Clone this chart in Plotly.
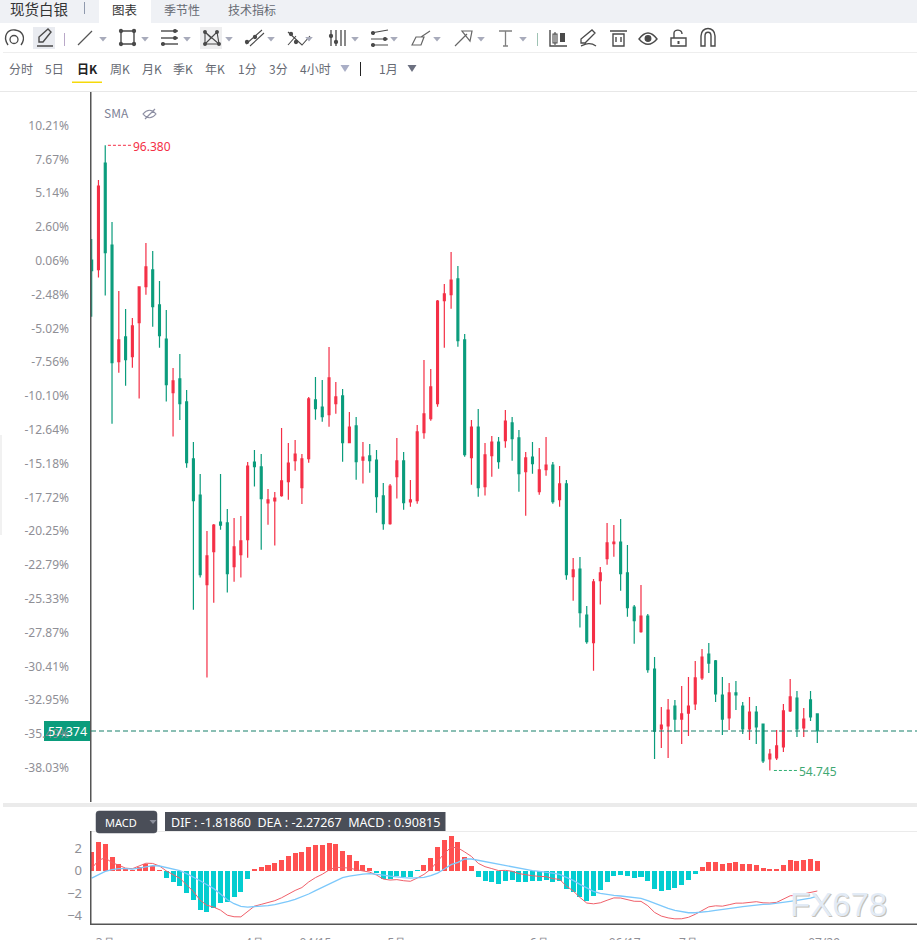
import plotly.graph_objects as go

# daily candles
OPENS = [88.74, 88.10, 95.20, 89.74, 81.97, 83.62, 82.30, 84.57, 86.97, 88.08, 85.75, 83.48,
         79.91, 80.82, 79.29, 75.49, 73.09, 67.12, 69.32, 71.29, 71.23, 68.32, 69.12, 70.12,
         75.29, 74.96, 72.56, 72.69, 73.05, 73.98, 75.38, 73.58, 75.51, 79.42, 78.95, 78.44,
         79.17, 79.69, 76.58, 77.69, 75.42, 75.69, 75.42, 73.03, 71.18, 74.31, 75.36, 72.63,
         72.71, 77.24, 78.17, 79.17, 86.03, 86.43, 87.48, 83.42, 75.58, 77.62, 73.65, 75.71,
         76.62, 76.71, 77.89, 76.89, 74.64, 75.62, 73.31, 74.78, 75.09, 72.78, 73.83, 67.65,
         68.16, 65.10, 63.26, 67.39, 68.85, 69.85, 69.96, 67.90, 65.63, 63.99, 65.03, 61.50,
         57.51, 57.71, 59.04, 58.17, 58.57, 59.17, 60.91, 62.50, 62.04, 59.77, 58.24, 59.91,
         59.04, 57.51, 58.64, 57.84, 55.51, 55.58, 56.31, 58.71, 59.57, 57.58, 59.44, 58.51]
HIGHS = [90.14, 94.07, 96.38, 91.27, 86.68, 85.48, 84.88, 86.95, 89.88, 89.34, 87.35, 85.41,
         81.55, 82.48, 80.09, 76.62, 74.49, 70.70, 71.16, 74.49, 72.16, 71.56, 71.69, 75.29,
         76.09, 75.82, 73.49, 73.29, 77.56, 76.56, 76.76, 75.82, 79.62, 80.95, 80.75, 82.95,
         80.62, 80.15, 78.62, 78.29, 76.62, 76.49, 76.09, 73.89, 73.83, 76.89, 75.96, 74.09,
         77.75, 82.08, 81.48, 86.08, 87.15, 89.28, 88.34, 83.82, 78.09, 78.82, 76.56, 77.02,
         76.96, 78.75, 78.29, 77.42, 75.96, 76.62, 76.22, 76.96, 75.29, 75.02, 74.09, 68.90,
         68.96, 65.70, 67.50, 68.30, 71.23, 71.09, 71.49, 69.76, 65.77, 67.10, 65.17, 62.30,
         58.97, 59.51, 59.44, 60.37, 60.97, 62.04, 62.84, 63.24, 62.10, 60.97, 60.57, 60.71,
         59.31, 59.64, 59.04, 57.84, 56.18, 57.44, 59.17, 60.84, 60.04, 58.91, 60.04, 58.51]
LOWS = [84.97, 87.57, 86.37, 77.84, 81.24, 80.37, 81.57, 79.51, 86.43, 84.30, 82.90, 79.31,
        76.98, 78.09, 74.91, 65.45, 67.59, 60.93, 65.92, 70.78, 66.59, 67.32, 67.59, 68.92,
        73.65, 69.45, 71.11, 69.72, 72.98, 72.78, 74.71, 72.49, 75.24, 78.11, 77.97, 77.64,
        78.51, 75.31, 76.58, 74.11, 73.85, 74.58, 71.91, 70.78, 71.11, 72.85, 72.11, 72.31,
        72.51, 76.84, 78.04, 78.97, 82.90, 85.50, 82.97, 75.64, 73.78, 72.98, 73.05, 74.31,
        74.84, 76.24, 75.38, 73.31, 71.71, 74.51, 73.11, 74.38, 72.51, 72.31, 67.45, 66.05,
        64.26, 63.19, 61.39, 65.79, 68.45, 68.98, 66.72, 64.99, 63.19, 63.92, 61.26, 55.51,
        56.24, 55.58, 57.31, 56.51, 57.04, 58.77, 60.77, 61.24, 59.31, 57.11, 57.44, 58.77,
        57.18, 56.78, 56.51, 55.24, 54.745, 55.44, 55.98, 58.64, 56.98, 56.98, 58.04, 56.58]
CLOSES = [88.03, 93.67, 89.23, 81.90, 83.42, 82.10, 84.35, 86.95, 88.28, 85.63, 83.70, 80.44,
          80.69, 79.17, 75.24, 72.71, 67.79, 69.03, 71.09, 71.09, 67.85, 69.63, 70.03, 75.02,
          74.98, 72.85, 72.76, 72.89, 74.03, 75.22, 75.82, 75.49, 79.49, 78.84, 78.31, 80.89,
          79.62, 76.58, 77.62, 75.31, 75.62, 75.38, 72.98, 71.18, 73.69, 75.36, 72.58, 72.76,
          77.29, 78.49, 80.29, 86.01, 86.48, 87.41, 83.37, 75.78, 77.62, 73.58, 75.76, 76.62,
          75.31, 78.02, 76.84, 74.51, 75.56, 75.18, 74.76, 75.09, 72.65, 73.83, 67.79, 68.10,
          65.25, 63.32, 67.30, 67.90, 69.90, 69.96, 67.85, 65.59, 64.72, 65.03, 61.46, 57.36,
          57.77, 58.77, 58.17, 58.51, 59.04, 60.91, 62.30, 61.90, 59.84, 58.17, 59.91, 59.77,
          57.51, 58.64, 57.64, 55.38, 55.84, 56.38, 58.71, 59.64, 57.51, 58.17, 58.31, 57.374]

MACD_HIST = [1.70, 2.60, 2.42, 1.26, 0.63, 0.09, 0.05, 0.33, 0.63, 0.39, 0.01, -0.63,
             -0.99, -1.35, -2.00, -2.60, -3.50, -3.68, -3.32, -2.90, -2.78, -2.33, -1.88, -0.72,
             0.09, 0.36, 0.54, 0.72, 0.99, 1.35, 1.61, 1.70, 2.15, 2.33, 2.33, 2.51,
             2.42, 1.79, 1.43, 0.90, 0.54, 0.27, -0.18, -0.72, -0.72, -0.45, -0.54, -0.57,
             -0.02, 0.54, 1.17, 2.15, 2.78, 3.14, 2.60, 1.26, 0.45, -0.54, -0.90, -0.99,
             -1.17, -0.90, -0.81, -0.99, -0.99, -0.90, -0.90, -0.81, -0.99, -0.90, -1.61, -1.88,
             -2.33, -2.69, -2.24, -1.70, -0.99, -0.45, -0.36, -0.51, -0.63, -0.54, -0.90, -1.61,
             -1.79, -1.70, -1.52, -1.26, -0.81, -0.27, 0.36, 0.81, 0.81, 0.63, 0.72, 0.81,
             0.63, 0.63, 0.54, 0.27, 0.18, 0.18, 0.54, 0.99, 0.90, 0.99, 1.08, 0.91]
DEA = [-0.66, -0.36, -0.06, 0.09, 0.18, 0.18, 0.15, 0.24, 0.36, 0.45, 0.42, 0.30,
       0.15, 0.00, -0.27, -0.57, -0.90, -1.26, -1.61, -2.09, -2.60, -2.96, -3.20, -3.26,
       -3.23, -3.20, -3.14, -3.05, -2.93, -2.75, -2.57, -2.36, -2.09, -1.79, -1.49, -1.20,
       -0.90, -0.63, -0.48, -0.36, -0.30, -0.27, -0.30, -0.39, -0.48, -0.57, -0.63, -0.66,
       -0.66, -0.60, -0.45, -0.21, 0.15, 0.54, 0.75, 1.05, 1.05, 0.93, 0.81, 0.69,
       0.60, 0.48, 0.36, 0.24, 0.12, 0.00, -0.06, -0.12, -0.21, -0.33, -0.57, -0.87,
       -1.23, -1.55, -1.85, -2.03, -2.15, -2.21, -2.27, -2.36, -2.42, -2.48, -2.69, -2.93,
       -3.17, -3.38, -3.56, -3.68, -3.77, -3.77, -3.74, -3.65, -3.56, -3.50, -3.41, -3.32,
       -3.23, -3.14, -3.05, -3.02, -2.99, -2.93, -2.84, -2.75, -2.66, -2.57, -2.45, -2.27]
DIF = [0.19, 0.94, 1.15, 0.72, 0.49, 0.23, 0.18, 0.41, 0.67, 0.65, 0.42, -0.02,
       -0.35, -0.68, -1.27, -1.87, -2.65, -3.10, -3.27, -3.54, -3.99, -4.13, -4.14, -3.62,
       -3.18, -3.02, -2.87, -2.69, -2.43, -2.07, -1.77, -1.51, -1.01, -0.62, -0.32, 0.06,
       0.31, 0.27, 0.24, 0.09, -0.03, -0.13, -0.39, -0.75, -0.84, -0.80, -0.90, -0.95,
       -0.66, -0.33, 0.14, 0.87, 1.54, 2.11, 2.05, 1.68, 1.28, 0.66, 0.36, 0.19,
       0.01, 0.03, -0.05, -0.26, -0.38, -0.45, -0.51, -0.53, -0.71, -0.78, -1.38, -1.81,
       -2.40, -2.90, -2.97, -2.88, -2.65, -2.44, -2.45, -2.62, -2.74, -2.75, -3.14, -3.74,
       -4.07, -4.23, -4.32, -4.31, -4.18, -3.91, -3.56, -3.24, -3.15, -3.18, -3.05, -2.91,
       -2.91, -2.82, -2.78, -2.88, -2.90, -2.84, -2.57, -2.25, -2.21, -2.07, -1.91, -1.82]

PCT_TICKS = [10.21, 7.67, 5.14, 2.60, 0.06, -2.48, -5.02, -7.56, -10.10, -12.64, -15.18, -17.72,
             -20.25, -22.79, -25.33, -27.87, -30.41, -32.95, -35.49, -38.03]
BASE_PRICE = 88.63
MONTH_POS = [2, 24, 33, 45, 66, 78.6, 88, 108]
MONTH_LABELS = ["3月", "4月", "04/15", "5月", "6月", "06/17", "7月", "07/29"]

TOP_TABS = [("季节性", 182), ("技术指标", 252)]
PERIODS = [("分时", 21), ("5日", 54), ("周K", 120), ("月K", 152), ("季K", 183), ("年K", 215),
           ("1分", 247), ("3分", 278), ("4小时", 315), ("1月", 388)]

UP = "#f42f46"
DOWN = "#0a9c7c"
GREY = "#8f8f96"
ICON = "#4a4a4a"
CJK = "Noto Sans CJK SC"
W, H = 917, 940

xs = list(range(len(CLOSES)))
shapes = []
notes = []


def stroke(path, color=ICON, width=1.4, fill=None):
    shapes.append(dict(type="path", path=path, xref="x3", yref="y3",
                       line=dict(color=color, width=width), fillcolor=fill))


def block(x0, y0, x1, y1, color, layer="above"):
    shapes.append(dict(type="rect", x0=x0, y0=y0, x1=x1, y1=y1, xref="x3", yref="y3",
                       line=dict(width=0), fillcolor=color, layer=layer))


def dot(x, y, r=1.8, color=ICON, fill=ICON):
    shapes.append(dict(type="circle", x0=x - r, x1=x + r, y0=y - r, y1=y + r, xref="x3", yref="y3",
                       line=dict(color=color, width=1.3), fillcolor=fill))


def caret(x, y=37, color="#a8abbb", w=3.8, h=4.5):
    stroke(f"M{x - w} {y} L{x + w} {y} L{x} {y + h} Z", color, 0, color)


def label(x, y, text, size=12, color=GREY, anchor="center", family=CJK):
    notes.append(dict(x=x, y=y, xref="x3", yref="y3", text=text, showarrow=False, xanchor=anchor,
                      yanchor="middle", font=dict(size=size, color=color, family=family)))


# header bands
block(0, 0, W, 23, "#eff1f5")
block(99, 0, 151, 23, "#ffffff")
block(3, 52, W, 53, "#eeeeee")
block(0, 91, W, 92, "#e8e8e8")
block(3, 803, W, 807, "#ebebeb")
block(91, 831, W, 832, "#ebebeb")
block(0, 435, 2, 535, "#f1f1f1")
block(84, 2, 85, 14, "#8f99ad")
label(39, 8.5, "现货白银", 14.5, "#333333")
label(124.5, 9, "图表", 12.5, "#333333")
for name, px in TOP_TABS:
    label(px, 9, name, 12, "#666a73")

# toolbar icons
block(33, 27, 55, 49, "#e9ebf0")
block(200, 27, 222, 49, "#eeeeef")
stroke("M8 45 C2 36 8 29 15 30 C23 31 26 38 21 45")
dot(14, 39.5, 4, fill="rgba(0,0,0,0)")
stroke("M39 42 L39 37 L48 29 L51 32 L43 42 Z M37 46 L53 46")
block(64, 33, 65, 46, "#b9a8c8")
stroke("M78 45 L92 31", "#555555", 1.2)
stroke("M121 31 H134 V44 H121 Z")
for cx, cy in [(121, 31), (134, 31), (121, 44), (134, 44)]:
    dot(cx, cy, 1.5)
for cy in [31, 38, 44]:
    stroke(f"M161 {cy} H178")
    dot(175 if cy != 44 else 163, cy, 1.4)
stroke("M205 32 L205 44 L219 44 L217 32 L211 38 Z M205 32 L219 44 M217 32 L205 44", ICON, 1.1)
for cx, cy in [(205, 32), (217, 32), (205, 44), (219, 44)]:
    dot(cx, cy, 1.3)
stroke("M246 44 L262 30 M250 46 L264 33", ICON, 1.1)
dot(247, 42, 1.5)
dot(255, 37, 1.5)
stroke("M288 32 L302 45 L310 36 M288 45 L296 36", ICON, 1.1)
dot(291, 34, 1.5)
dot(296, 42, 1.5)
for cx in [331, 336, 341, 345]:
    stroke(f"M{cx} 30 V46", width=1.3)
dot(331, 36, 1.5)
dot(336, 42, 1.5)
stroke("M371 33 L388 30 M371 39 H388 M371 45 H388", ICON, 1.2)
dot(373, 33, 1.4)
dot(385, 39, 1.4)
dot(373, 45, 1.4)
stroke("M412 45 L416 37 L424 37 L421 45 Z M421 37 L430 31", "#666666", 1.2)
stroke("M455 46 L467 34 M462 31 L472 31 L470 41 Z", "#666666", 1.2)
stroke("M499 31 H512 M505.5 31 V46 M503 46 H508", "#808080", 1.3)
block(537, 33, 538, 46, "#9fc3b4")
stroke("M550 30 V46 H567", ICON, 1.4)
stroke("M553 34 H557 V43 H553 Z M555 32 V45", ICON, 1.1)
block(560, 33, 565, 42, ICON)
stroke("M581 43 L581 39 L592 30 L595 33 L585 43 Z M581 46 C586 44 590 42 596 46", ICON, 1.3)
stroke("M610 31 H627 M613 34 V46 H624 V34 Z M616 37 V42 M621 37 V42", ICON, 1.4)
stroke("M639 39 C645 31 651 31 657 39 C651 46 645 46 639 39 Z", ICON, 1.4)
dot(648, 38.5, 2.8)
stroke("M671 38 H686 V46 H671 Z M674 38 V33 C674 29 682 29 682 34", ICON, 1.4)
block(677.5, 41, 679.5, 44, ICON)
stroke("M701 46 V36 C701 26 715 26 715 36 V46 H711 V36 C711 31 705 31 705 36 V46 Z", ICON, 1.4)
for cx in [103, 145, 187, 229, 271, 309, 355, 394, 437, 481, 523]:
    caret(cx)

# period row
for name, px in PERIODS:
    label(px, 68.5, name, 12, "#666a73")
label(87, 68.5, "<b>日K</b>", 12, "#222222")
block(72, 81.5, 102, 83, "#f5d90a")
caret(345, 65, "#a9aec6", 4.5, 7)
block(360, 62, 361, 76, "#222222")
caret(412, 65, "#6c7080", 4.5, 7)

# main panel furniture
block(90, 92, 91.5, 802, "#555555")
block(90, 831, 91.5, 925, "#555555")
block(90, 923.5, W, 925, "#555555")
label(116, 112.5, "SMA", 12, "#7d7f95")
stroke("M143 114 C147 109 152 109 156 114 C152 119 147 119 143 114 Z M145 119 L155 109", "#8d8fa3", 1.2)

# last price tag
shapes.append(dict(type="rect", x0=44 / W, x1=90 / W, y0=1 - 741 / H, y1=1 - 721 / H, xref="paper",
                   yref="paper", layer="below", line=dict(width=0), fillcolor=DOWN))
label(67, 731.5, "57.374", 12.5, "#ffffff", family="Noto Sans")

# last price, high and low leaders
shapes.append(dict(type="line", x0=-0.1, x1=121.7, y0=CLOSES[-1], y1=CLOSES[-1], xref="x", yref="y",
                   line=dict(color="#17806a", width=1.2, dash="5px,3px")))
shapes.append(dict(type="line", x0=2.4, x1=5.9, y0=max(HIGHS), y1=max(HIGHS), xref="x", yref="y",
                   line=dict(color=UP, width=1, dash="3px,2px")))
shapes.append(dict(type="line", x0=100.6, x1=104.2, y0=min(LOWS), y1=min(LOWS), xref="x", yref="y",
                   line=dict(color="#2fae72", width=1, dash="3px,2px")))
notes.append(dict(x=5.9, y=max(HIGHS), xref="x", yref="y", text="96.380", showarrow=False, xanchor="left",
                  xshift=-1, yshift=-1.5, font=dict(size=12, color=UP, family="Noto Sans")))
notes.append(dict(x=104.2, y=min(LOWS), xref="x", yref="y", text="54.745", showarrow=False, xanchor="left",
                  xshift=-1, yshift=-1, font=dict(size=12, color="#3fa873", family="Noto Sans")))

# MACD legend boxes
stroke("M99 811 H154 Q157 811 157 814 V830 Q157 833 154 833 H99 Q96 833 96 830 V814 Q96 811 99 811 Z",
       "#4a4e58", 0.5, "#4a4e58")
label(121, 822.5, "MACD", 11, "#ffffff", family="Noto Sans")
caret(153, 820, "#8b8f9b", 3.5, 4)
block(165, 812, 445.5, 831, "#4a4e58")
label(305, 822, "DIF : -1.81860&nbsp;&nbsp;DEA : -2.27267&nbsp;&nbsp;MACD : 0.90815", 12.5, "#ffffff",
      family="Noto Sans")

# watermark
label(839, 905.5, "FX678", 33, "#c4bfb8", family="Liberation Sans")
label(838, 904, "FX678", 33, "#e2ebf6", family="Liberation Sans")

fig = go.Figure()
fig.add_trace(go.Candlestick(
    x=xs, open=OPENS, high=HIGHS, low=LOWS, close=CLOSES, xaxis="x", yaxis="y",
    increasing=dict(line=dict(color=UP, width=1.2), fillcolor=UP),
    decreasing=dict(line=dict(color=DOWN, width=1.2), fillcolor=DOWN),
    whiskerwidth=0, showlegend=False,
))
fig.add_trace(go.Bar(
    x=xs, y=MACD_HIST, xaxis="x2", yaxis="y2", width=0.74, showlegend=False,
    marker=dict(color=["#ff5050" if v >= 0 else "#04cdd0" for v in MACD_HIST], line=dict(width=0)),
))
fig.add_trace(go.Scatter(x=xs, y=DIF, mode="lines", xaxis="x2", yaxis="y2", showlegend=False,
                         line=dict(color="#f0606a", width=1)))
fig.add_trace(go.Scatter(x=xs, y=DEA, mode="lines", xaxis="x2", yaxis="y2", showlegend=False,
                         line=dict(color="#7cc8fb", width=1.3)))
# invisible trace so the pixel overlay axes exist
fig.add_trace(go.Scatter(x=[0], y=[0], mode="none", xaxis="x3", yaxis="y3", showlegend=False))

x_left = 91 / W
fig.update_layout(
    width=W, height=H, margin=dict(l=0, r=0, t=0, b=0, autoexpand=False), paper_bgcolor="white",
    plot_bgcolor="rgba(0,0,0,0)",
    boxgap=0.6, bargap=0, showlegend=False, shapes=shapes, annotations=notes,
    font=dict(family="Noto Sans", size=12, color=GREY),
    xaxis=dict(domain=[x_left, 1], range=[-0.1, 121.7], rangeslider=dict(visible=False), showgrid=False,
               showticklabels=False, zeroline=False, anchor="y"),
    yaxis=dict(domain=[1 - 802 / H, 1 - 92 / H], range=[52.645, 99.93], showgrid=False, zeroline=False,
               tickvals=[BASE_PRICE * (1 + p / 100) for p in PCT_TICKS],
               ticktext=[f"{p:.2f}%" for p in PCT_TICKS], ticks="", ticklabelstandoff=21,
               tickfont=dict(size=12, color=GREY), anchor="x"),
    xaxis2=dict(domain=[x_left, 1], range=[-0.1, 121.7], showgrid=False, zeroline=False, anchor="y2",
                tickvals=MONTH_POS, ticktext=MONTH_LABELS, ticks="", ticklabelstandoff=10,
                tickfont=dict(size=12, color=GREY)),
    yaxis2=dict(domain=[1 - 924 / H, 1 - 831 / H], range=[-4.78, 3.56], showgrid=False, zeroline=False,
                tickvals=[2, 0, -2, -4], ticks="", ticklabelstandoff=8, anchor="x2",
                tickfont=dict(size=13, color=GREY)),
    xaxis3=dict(domain=[0, 1], range=[0, W], visible=False, anchor="y3", fixedrange=True),
    yaxis3=dict(domain=[0, 1], range=[H, 0], visible=False, anchor="x3", fixedrange=True),
)

fig.write_html("out.html", config={"displayModeBar": False}, post_script="document.body.style.margin='0';")
